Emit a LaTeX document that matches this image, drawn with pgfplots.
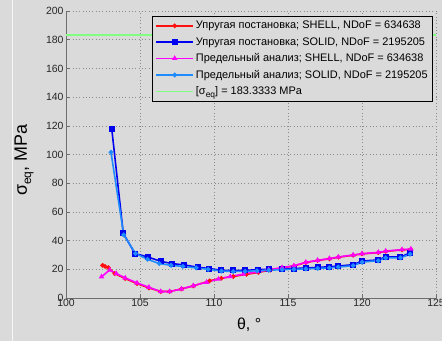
\documentclass[border=0pt]{standalone}
\usepackage{fontspec}
\setmainfont{Liberation Sans}
\usepackage{pgfplots}
\pgfplotsset{compat=1.18}
\definecolor{bg}{HTML}{DADADA}
\definecolor{mred}{HTML}{FF1010}
\definecolor{mblue}{HTML}{0000F0}
\definecolor{mmag}{HTML}{FF00FF}
\definecolor{mlblue}{HTML}{1E8CFF}
\definecolor{mgreen}{HTML}{80FF80}
\definecolor{axgray}{HTML}{6E6E6E}
\begin{document}
\begin{tikzpicture}[x=1bp,y=1bp]
\fill[bg] (0,0) rectangle (442,341);
\useasboundingbox (0,0) rectangle (442,341);
\draw[white!75!bg, line width=0.8bp] (12,0)--(12,341);
\begin{axis}[
  at={(66bp,43bp)}, anchor=south west,
  scale only axis, width=370bp, height=287bp,
  xmin=100, xmax=125, ymin=0, ymax=200,
  xtick={100,105,...,125}, ytick={0,20,...,200},
  axis x line*=bottom, axis y line*=left,
  axis line style={axgray, line width=0.8bp, -},
  tick style={axgray, line width=0.6bp},
  tick align=inside, major tick length=4bp,
  grid=major,
  major grid style={axgray!80, line width=0.5bp, dash pattern=on 0.7bp off 2.6bp},
  /pgf/number format/assume math mode=true,
  tick label style={font=\fontsize{10.5}{12}\selectfont, text=black!85},
  xticklabel style={yshift=2bp},
  yticklabel style={xshift=1bp},
  xlabel={θ, °},
  xlabel style={at={(axis description cs:0.495,0)}, anchor=north, yshift=-16bp, font=\fontsize{16}{18}\selectfont},
  ylabel={σ\raisebox{-0.45ex}{\fontsize{12}{13}\selectfont eq}, MPa},
  ylabel style={at={(axis description cs:-0.078,0.48)}, anchor=south, font=\fontsize{18}{20}\selectfont},
  legend style={at={(1,1)}, anchor=north east, xshift=-3bp, yshift=-5bp,
    fill=bg, draw=black, line width=0.6bp, font=\fontsize{11}{13}\selectfont,
    inner xsep=3bp, inner ysep=3bp, row sep=3bp},
  legend cell align=left,
  legend image code/.code={\draw[mark repeat=2,mark phase=2] plot coordinates {(0bp,0bp) (18.5bp,0bp) (37bp,0bp)};},
]
\addplot[mred, line width=1.6bp, mark=*, mark size=1.4bp] coordinates {
(102.47,22.8) (102.64,22) (102.86,21.2) (103.3,17) (104.0,13.5) (104.8,10) (105.6,7) (106.4,4.5) (107.0,4.5) (107.8,6.3) (108.6,8.4) (109.7,12) (110.5,13.8) (111.3,15) (112.2,16.5) (113.0,17.8) (113.8,19.5) (114.6,21) (115.4,22.3) (116.2,24.7) (117.0,26.1) (117.8,27.3) (118.4,28.4) (119.4,29.8) (120.0,30.7) (121.1,31.6) (121.6,32.5) (122.7,33.5) (123.3,33.9)
};
\addlegendentry{Упругая постановка; SHELL, NDoF = 634638}
\addplot[mblue, line width=1.6bp, mark=square*, mark size=2.2bp] coordinates {
(103.09,118) (103.87,45) (104.66,31) (105.56,28.5) (106.42,25.5) (107.18,24) (107.99,23) (108.9,21.5) (109.68,20.5) (110.5,19.3) (111.3,19.2) (112.1,19.2) (112.95,19.8) (113.7,20) (114.6,20.3) (115.4,20.5) (116.2,21) (117.0,21.3) (117.8,21.8) (118.4,22.3) (119.4,23.2) (120.0,25.8) (121.1,26.5) (121.6,28.8) (122.6,28.5) (123.25,31.5)
};
\addlegendentry{Упругая постановка; SOLID, NDoF = 2195205}
\addplot[mmag, line width=1.6bp, mark=triangle*, mark size=1.6bp] coordinates {
(102.4,14.8) (102.95,19.5) (103.4,17) (104.0,14) (104.8,10.5) (105.6,7.5) (106.4,4.5) (107.0,4.5) (107.8,6.3) (108.6,8.6) (109.5,11) (110.3,13.2) (111.1,15) (112.0,16.7) (112.9,18.2) (113.7,19.7) (114.6,21.2) (115.4,22.5) (116.2,24.9) (117.0,26.3) (117.8,27.5) (118.4,28.6) (119.4,30) (120.0,30.9) (121.1,31.8) (121.6,32.7) (122.7,33.7) (123.3,34.1)
};
\addlegendentry{Предельный анализ; SHELL, NDoF = 634638}
\addplot[mlblue, line width=1.6bp, mark=*, mark size=1.5bp] coordinates {
(103.04,101.5) (103.9,44) (104.7,31) (105.5,27) (106.3,24) (107.1,22.8) (107.9,22) (108.8,21) (109.6,20) (110.5,18.8) (111.3,18.5) (112.1,18.6) (112.9,19) (113.7,19.3) (114.6,19.8) (115.4,20) (116.2,20.3) (117.0,20.6) (117.8,21) (118.4,21.6) (119.4,22.5) (120.0,25) (121.1,26) (121.6,28) (122.6,28) (123.25,30.5)
};
\addlegendentry{Предельный анализ; SOLID, NDoF = 2195205}
\addplot[mgreen, line width=1.2bp, mark=none] coordinates {(100,183.3333) (125,183.3333)};
\addlegendentry{[σ\raisebox{-0.45ex}{\fontsize{8.5}{9}\selectfont eq}] = 183.3333 MPa}
\end{axis}
\end{tikzpicture}
\end{document}
